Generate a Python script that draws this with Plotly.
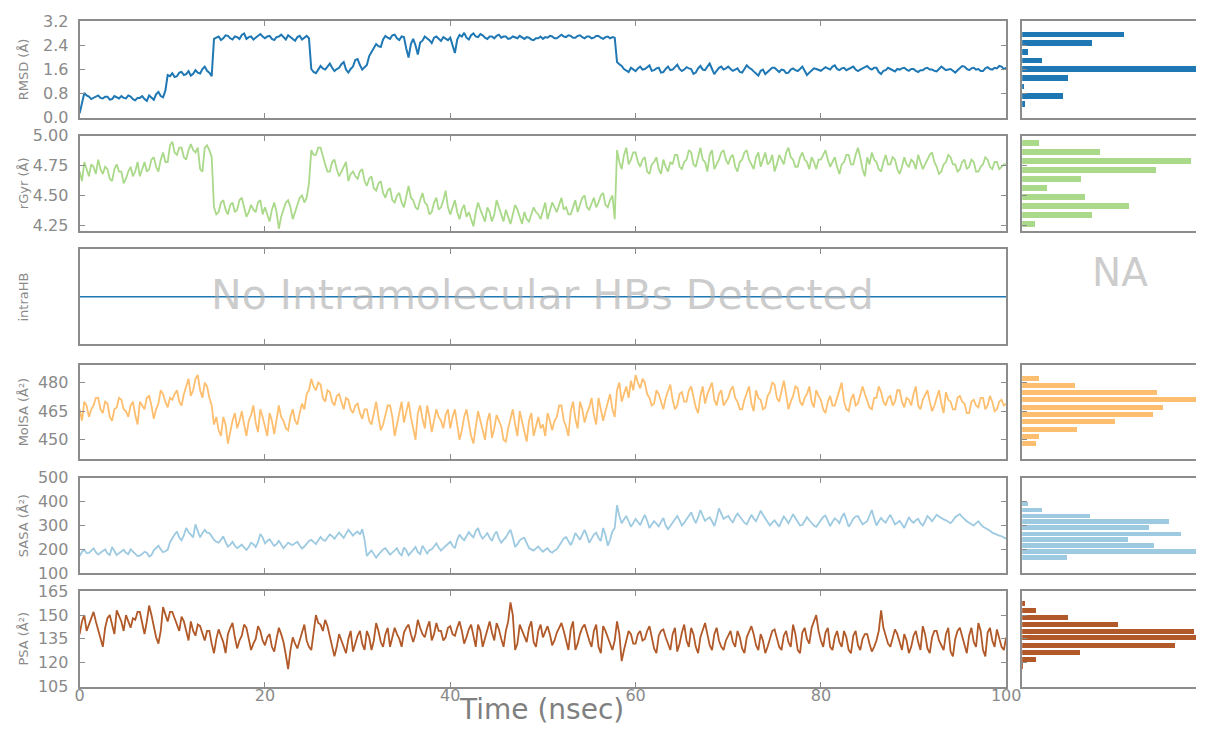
import numpy as np
import plotly.graph_objects as go

# ---------------- data (one value every 0.25 ns) ----------------
RMSD = [
    0.15, 0.55, 0.82, 0.74, 0.70, 0.62, 0.66, 0.72, 0.74, 0.66, 0.64, 0.70, 0.70, 0.60, 0.62, 0.72, 0.68, 0.64, 0.72, 0.66,
    0.64, 0.74, 0.70, 0.62, 0.58, 0.66, 0.66, 0.72, 0.62, 0.56, 0.74, 0.66, 0.60, 0.78, 0.86, 0.72, 0.68, 0.90, 1.42, 1.38,
    1.48, 1.35, 1.38, 1.50, 1.52, 1.42, 1.45, 1.55, 1.40, 1.46, 1.58, 1.50, 1.47, 1.62, 1.70, 1.56, 1.50, 1.38, 2.62, 2.66,
    2.70, 2.58, 2.64, 2.74, 2.72, 2.64, 2.60, 2.70, 2.68, 2.62, 2.75, 2.80, 2.62, 2.68, 2.70, 2.60, 2.66, 2.74, 2.78, 2.70,
    2.64, 2.70, 2.72, 2.62, 2.58, 2.68, 2.70, 2.76, 2.66, 2.60, 2.74, 2.68, 2.62, 2.56, 2.68, 2.72, 2.60, 2.66, 2.72, 2.64,
    1.62, 1.52, 1.48, 1.60, 1.72, 1.64, 1.60, 1.70, 1.80, 1.66, 1.55, 1.62, 1.66, 1.78, 1.85, 1.60, 1.50, 1.62, 1.70, 1.92,
    1.95, 1.75, 1.60, 1.68, 1.75, 2.05, 2.20, 2.30, 2.45, 2.38, 2.35, 2.60, 2.72, 2.66, 2.62, 2.74, 2.76, 2.64, 2.58, 2.70,
    2.68, 2.30, 2.00, 2.45, 2.62, 2.40, 2.10, 2.50, 2.56, 2.70, 2.64, 2.58, 2.48, 2.66, 2.70, 2.62, 2.55, 2.68, 2.62, 2.58,
    2.66, 2.40, 2.15, 2.60, 2.75, 2.70, 2.82, 2.66, 2.60, 2.74, 2.80, 2.70, 2.68, 2.78, 2.74, 2.66, 2.62, 2.70, 2.70, 2.64,
    2.72, 2.76, 2.66, 2.70, 2.70, 2.62, 2.64, 2.70, 2.68, 2.64, 2.72, 2.66, 2.62, 2.68, 2.66, 2.60, 2.58, 2.64, 2.64, 2.70,
    2.62, 2.68, 2.66, 2.72, 2.70, 2.64, 2.64, 2.70, 2.76, 2.70, 2.68, 2.74, 2.72, 2.66, 2.66, 2.72, 2.74, 2.68, 2.64, 2.70,
    2.70, 2.64, 2.66, 2.72, 2.72, 2.66, 2.62, 2.68, 2.70, 2.64, 2.68, 2.66, 1.85, 1.78, 1.72, 1.62, 1.58, 1.52, 1.66, 1.60,
    1.55, 1.64, 1.70, 1.60, 1.62, 1.68, 1.74, 1.56, 1.58, 1.64, 1.66, 1.50, 1.52, 1.62, 1.70, 1.58, 1.60, 1.68, 1.76, 1.62,
    1.55, 1.60, 1.68, 1.64, 1.62, 1.46, 1.50, 1.64, 1.72, 1.60, 1.58, 1.70, 1.80, 1.62, 1.45, 1.56, 1.66, 1.70, 1.60, 1.64,
    1.70, 1.62, 1.56, 1.60, 1.64, 1.52, 1.50, 1.62, 1.74, 1.66, 1.62, 1.54, 1.48, 1.40, 1.56, 1.60, 1.45, 1.52, 1.60, 1.66,
    1.66, 1.58, 1.52, 1.60, 1.58, 1.48, 1.50, 1.60, 1.64, 1.58, 1.55, 1.62, 1.70, 1.56, 1.42, 1.50, 1.58, 1.64, 1.62, 1.58,
    1.56, 1.62, 1.68, 1.64, 1.60, 1.70, 1.74, 1.62, 1.58, 1.64, 1.66, 1.58, 1.62, 1.66, 1.70, 1.60, 1.55, 1.60, 1.64, 1.70,
    1.72, 1.64, 1.60, 1.66, 1.66, 1.52, 1.45, 1.56, 1.58, 1.66, 1.62, 1.58, 1.54, 1.62, 1.60, 1.64, 1.66, 1.60, 1.56, 1.62,
    1.62, 1.56, 1.52, 1.58, 1.58, 1.64, 1.66, 1.60, 1.60, 1.56, 1.54, 1.62, 1.70, 1.64, 1.58, 1.60, 1.62, 1.56, 1.50, 1.58,
    1.64, 1.72, 1.70, 1.62, 1.58, 1.64, 1.66, 1.60, 1.62, 1.55, 1.55, 1.64, 1.68, 1.62, 1.60, 1.66, 1.64, 1.72, 1.70, 1.62,
    1.66,
]
RGYR = [
    4.70, 4.62, 4.78, 4.72, 4.66, 4.76, 4.74, 4.68, 4.80, 4.72, 4.68, 4.74, 4.72, 4.64, 4.62, 4.72, 4.76, 4.70, 4.70, 4.60,
    4.64, 4.70, 4.74, 4.66, 4.70, 4.78, 4.66, 4.72, 4.78, 4.70, 4.72, 4.80, 4.82, 4.74, 4.70, 4.80, 4.86, 4.78, 4.78, 4.92,
    4.95, 4.86, 4.84, 4.90, 4.90, 4.82, 4.80, 4.88, 4.93, 4.88, 4.86, 4.90, 4.72, 4.70, 4.90, 4.92, 4.88, 4.82, 4.40, 4.34,
    4.36, 4.44, 4.46, 4.38, 4.34, 4.42, 4.44, 4.36, 4.38, 4.46, 4.48, 4.40, 4.32, 4.36, 4.42, 4.38, 4.36, 4.44, 4.46, 4.34,
    4.40, 4.34, 4.28, 4.38, 4.44, 4.36, 4.22, 4.32, 4.38, 4.44, 4.46, 4.40, 4.30, 4.36, 4.42, 4.48, 4.50, 4.44, 4.48, 4.60,
    4.88, 4.84, 4.84, 4.90, 4.90, 4.82, 4.76, 4.70, 4.70, 4.78, 4.80, 4.72, 4.66, 4.70, 4.74, 4.78, 4.62, 4.68, 4.70, 4.66,
    4.64, 4.70, 4.72, 4.62, 4.58, 4.64, 4.66, 4.56, 4.54, 4.60, 4.62, 4.52, 4.48, 4.54, 4.56, 4.46, 4.44, 4.50, 4.52, 4.44,
    4.40, 4.50, 4.58, 4.48, 4.46, 4.40, 4.38, 4.46, 4.52, 4.44, 4.42, 4.34, 4.36, 4.44, 4.48, 4.38, 4.40, 4.46, 4.54, 4.40,
    4.34, 4.40, 4.46, 4.36, 4.30, 4.38, 4.42, 4.32, 4.36, 4.30, 4.24, 4.36, 4.44, 4.38, 4.32, 4.28, 4.40, 4.36, 4.28, 4.34,
    4.46, 4.40, 4.34, 4.28, 4.38, 4.32, 4.26, 4.34, 4.42, 4.38, 4.32, 4.26, 4.36, 4.30, 4.28, 4.34, 4.40, 4.36, 4.34, 4.30,
    4.38, 4.44, 4.30, 4.36, 4.44, 4.40, 4.36, 4.42, 4.48, 4.38, 4.40, 4.34, 4.34, 4.40, 4.46, 4.36, 4.42, 4.48, 4.50, 4.40,
    4.38, 4.44, 4.48, 4.40, 4.44, 4.50, 4.52, 4.42, 4.40, 4.46, 4.50, 4.30, 4.88, 4.78, 4.72, 4.84, 4.90, 4.76, 4.80, 4.86,
    4.86, 4.78, 4.74, 4.80, 4.82, 4.70, 4.68, 4.76, 4.78, 4.82, 4.72, 4.68, 4.80, 4.74, 4.70, 4.78, 4.76, 4.84, 4.84, 4.74,
    4.72, 4.78, 4.80, 4.88, 4.86, 4.76, 4.74, 4.82, 4.90, 4.80, 4.78, 4.70, 4.84, 4.88, 4.72, 4.76, 4.80, 4.86, 4.88, 4.80,
    4.76, 4.82, 4.84, 4.74, 4.70, 4.78, 4.80, 4.86, 4.88, 4.80, 4.76, 4.72, 4.82, 4.86, 4.74, 4.80, 4.86, 4.76, 4.78, 4.84,
    4.70, 4.76, 4.84, 4.80, 4.76, 4.86, 4.90, 4.82, 4.80, 4.74, 4.74, 4.82, 4.86, 4.80, 4.78, 4.72, 4.82, 4.78, 4.72, 4.80,
    4.80, 4.84, 4.88, 4.80, 4.74, 4.78, 4.82, 4.74, 4.68, 4.76, 4.78, 4.84, 4.84, 4.76, 4.76, 4.84, 4.90, 4.82, 4.72, 4.66,
    4.82, 4.76, 4.86, 4.80, 4.78, 4.72, 4.70, 4.78, 4.84, 4.76, 4.76, 4.82, 4.80, 4.72, 4.68, 4.74, 4.82, 4.76, 4.74, 4.80,
    4.78, 4.72, 4.84, 4.78, 4.72, 4.76, 4.80, 4.84, 4.86, 4.78, 4.74, 4.68, 4.70, 4.76, 4.78, 4.84, 4.82, 4.76, 4.76, 4.70,
    4.72, 4.78, 4.80, 4.72, 4.74, 4.80, 4.78, 4.70, 4.70, 4.74, 4.76, 4.82, 4.80, 4.74, 4.72, 4.78, 4.78, 4.72, 4.74, 4.76,
    4.76,
]
INTRA_HB = [0, 0]  # no intramolecular H-bonds over the whole run
MOLSA = [
    466, 460, 470, 468, 462, 466, 468, 472, 472, 466, 464, 470, 469, 462, 460, 466, 467, 472, 471, 466,
    465, 462, 468, 470, 463, 458, 470, 468, 466, 472, 473, 468, 461, 466, 469, 476, 474, 470, 467, 472,
    471, 474, 476, 470, 468, 474, 478, 482, 473, 476, 482, 484, 476, 472, 480, 478, 472, 468, 458, 462,
    455, 452, 462, 458, 448, 455, 460, 464, 456, 460, 465, 458, 452, 460, 463, 468, 459, 454, 466, 462,
    457, 452, 464, 460, 453, 460, 468, 462, 460, 456, 455, 462, 466, 460, 458, 464, 469, 466, 474, 476,
    482, 478, 476, 480, 479, 472, 470, 476, 475, 470, 468, 473, 474, 470, 466, 472, 471, 466, 464, 468,
    469, 464, 461, 466, 466, 460, 458, 464, 470, 462, 455, 458, 463, 468, 468, 462, 452, 458, 465, 470,
    459, 464, 470, 462, 456, 450, 464, 468, 461, 456, 468, 462, 454, 460, 466, 462, 460, 456, 463, 466,
    456, 462, 466, 458, 450, 455, 462, 466, 458, 452, 448, 456, 465, 460, 455, 450, 460, 464, 451, 456,
    463, 460, 457, 450, 449, 456, 461, 466, 458, 452, 465, 460, 454, 449, 460, 464, 452, 458, 462, 456,
    458, 452, 464, 460, 455, 460, 462, 468, 468, 460, 457, 452, 465, 470, 461, 456, 470, 466, 459, 464,
    467, 472, 463, 458, 472, 466, 460, 465, 469, 474, 466, 462, 476, 480, 470, 474, 478, 472, 481, 476,
    484, 480, 477, 482, 480, 474, 472, 468, 469, 476, 474, 470, 466, 472, 476, 479, 471, 466, 468, 474,
    475, 470, 470, 476, 478, 472, 467, 464, 473, 478, 469, 474, 477, 480, 471, 468, 474, 476, 468, 470,
    472, 476, 478, 472, 470, 466, 466, 471, 474, 478, 469, 465, 476, 472, 471, 466, 467, 473, 475, 480,
    479, 472, 470, 476, 481, 474, 466, 470, 473, 478, 477, 470, 468, 472, 474, 478, 470, 467, 476, 473,
    471, 466, 464, 470, 473, 468, 468, 472, 476, 480, 470, 466, 465, 471, 474, 468, 469, 473, 478, 474,
    471, 467, 466, 472, 472, 478, 475, 470, 468, 472, 473, 468, 470, 476, 476, 470, 467, 472, 471, 468,
    474, 478, 468, 466, 471, 474, 476, 470, 465, 468, 472, 476, 469, 464, 475, 471, 470, 466, 466, 472,
    473, 470, 469, 464, 464, 470, 471, 468, 467, 472, 472, 466, 468, 473, 470, 465, 466, 470, 471, 468,
    469,
]
SASA = [
    172, 190, 198, 184, 185, 196, 204, 188, 178, 186, 195, 200, 183, 176, 210, 192, 176, 184, 192, 198,
    186, 180, 200, 192, 181, 172, 174, 180, 190, 186, 170, 176, 196, 205, 215, 200, 188, 192, 198, 230,
    248, 262, 275, 250, 238, 260, 290, 272, 262, 250, 305, 280, 250, 268, 282, 270, 268, 255, 240, 232,
    228, 240, 255, 230, 212, 220, 232, 215, 205, 212, 220, 208, 198, 210, 228, 222, 210, 230, 265, 250,
    225, 235, 242, 228, 214, 222, 236, 220, 205, 216, 228, 222, 218, 226, 232, 215, 204, 212, 226, 235,
    240, 230, 222, 238, 252, 240, 236, 250, 262, 255, 244, 258, 270, 260, 248, 266, 282, 270, 258, 268,
    275, 262, 285, 240, 172, 185, 195, 180, 165, 178, 188, 200, 205, 190, 178, 186, 196, 205, 184, 175,
    208, 196, 175, 185, 198, 210, 188, 180, 215, 200, 182, 196, 200, 212, 225, 208, 195, 205, 215, 225,
    232, 215, 205, 240, 262, 248, 238, 255, 272, 260, 250, 276, 290, 260, 245, 256, 268, 250, 235, 262,
    275, 245, 228, 240, 250, 268, 282, 250, 210, 222, 238, 245, 248, 226, 205, 200, 195, 204, 212, 200,
    190, 198, 205, 192, 186, 195, 200, 215, 230, 245, 252, 232, 218, 240, 268, 255, 240, 262, 282, 258,
    228, 245, 262, 270, 248, 235, 290, 260, 215, 240, 275, 290, 385, 340, 310, 325, 340, 318, 295, 310,
    328, 315, 302, 325, 345, 320, 290, 305, 318, 308, 296, 315, 332, 300, 285, 298, 312, 330, 340, 322,
    300, 312, 325, 340, 355, 330, 310, 335, 365, 340, 320, 328, 335, 318, 298, 330, 372, 350, 328, 335,
    340, 325, 312, 335, 350, 338, 325, 312, 305, 325, 345, 330, 318, 340, 362, 345, 330, 315, 300, 312,
    322, 308, 295, 318, 338, 325, 310, 328, 348, 332, 315, 300, 302, 320, 335, 322, 312, 300, 295, 310,
    325, 336, 342, 318, 298, 315, 330, 322, 310, 335, 352, 325, 295, 310, 328, 338, 340, 322, 305, 312,
    318, 342, 365, 330, 300, 318, 332, 320, 312, 330, 345, 325, 305, 312, 320, 305, 290, 312, 335, 320,
    312, 322, 328, 310, 300, 318, 340, 330, 318, 332, 345, 338, 330, 326, 322, 315, 310, 320, 335, 342,
    348, 336, 325, 318, 312, 305, 300, 310, 318, 305, 295, 290, 285, 278, 270, 265, 262, 258, 255, 250,
    245,
]
PSA = [
    138, 146, 150, 140, 144, 148, 152, 146, 140, 134, 130, 142, 148, 150, 144, 138, 153, 149, 146, 140,
    150, 146, 142, 148, 147, 152, 152, 145, 138, 146, 156, 150, 142, 136, 132, 140, 155, 150, 146, 152,
    152, 148, 144, 140, 149, 146, 140, 134, 146, 140, 137, 144, 143, 138, 134, 140, 140, 132, 126, 135,
    141, 137, 133, 126, 138, 142, 145, 136, 129, 134, 137, 144, 142, 135, 128, 132, 135, 143, 140, 134,
    131, 136, 138, 130, 127, 135, 142, 138, 133, 125, 116, 128, 136, 132, 129, 134, 139, 144, 134, 130,
    128, 140, 150, 145, 144, 140, 147, 143, 136, 130, 124, 130, 138, 134, 130, 126, 135, 140, 127, 132,
    137, 140, 132, 128, 140, 136, 128, 134, 145, 140, 133, 130, 138, 142, 130, 136, 142, 138, 135, 130,
    139, 142, 144, 138, 133, 138, 147, 142, 138, 136, 142, 146, 134, 138, 145, 140, 140, 134, 136, 142,
    143, 138, 137, 142, 146, 140, 132, 136, 141, 144, 136, 130, 144, 140, 130, 136, 142, 146, 139, 134,
    145, 141, 135, 130, 140, 146, 158, 150, 128, 132, 144, 140, 137, 133, 142, 146, 133, 130, 140, 144,
    136, 140, 143, 138, 131, 134, 139, 142, 145, 140, 133, 128, 141, 146, 128, 132, 138, 142, 144, 138,
    134, 130, 140, 144, 130, 126, 143, 140, 136, 132, 128, 134, 146, 138, 121, 128, 135, 140, 138, 132,
    132, 138, 140, 134, 135, 140, 143, 136, 129, 126, 137, 140, 141, 136, 132, 128, 138, 142, 127, 132,
    139, 144, 134, 130, 142, 138, 130, 126, 136, 140, 145, 138, 131, 128, 138, 142, 134, 130, 128, 134,
    137, 140, 133, 130, 140, 136, 129, 126, 136, 140, 143, 138, 131, 128, 138, 134, 126, 130, 135, 140,
    141, 136, 130, 128, 137, 140, 133, 130, 144, 138, 128, 126, 139, 142, 135, 132, 142, 146, 150, 140,
    134, 130, 139, 142, 130, 128, 136, 140, 133, 130, 140, 136, 128, 126, 137, 140, 131, 128, 135, 138,
    138, 132, 127, 130, 134, 140, 153, 142, 136, 132, 130, 136, 141, 138, 132, 128, 138, 134, 126, 130,
    137, 140, 133, 128, 143, 138, 129, 126, 136, 140, 140, 134, 131, 128, 138, 142, 127, 124, 135, 140,
    142, 136, 130, 126, 137, 142, 133, 130, 145, 140, 128, 124, 139, 142, 134, 130, 141, 136, 130, 128,
    136,
]

# histogram bins (centres) and bar lengths (relative counts)
RMSD_BINS = [2.75, 2.47, 2.18, 1.89, 1.61, 1.30, 1.02, 0.71, 0.44]
RMSD_COUNTS = [102, 70, 6, 20, 188, 46, 2, 41, 3]
RGYR_BINS = [4.941, 4.865, 4.792, 4.716, 4.640, 4.564, 4.488, 4.413, 4.340, 4.261]
RGYR_COUNTS = [17, 78, 169, 134, 59, 25, 63, 107, 70, 13]
MOLSA_BINS = [482.6, 478.8, 475.1, 471.2, 467.2, 463.3, 459.6, 455.8, 451.9, 448.1]
MOLSA_COUNTS = [17, 53, 135, 184, 141, 131, 93, 55, 17, 14]
SASA_BINS = [391.8, 366.5, 341.3, 317.7, 292.4, 265.5, 241.9, 216.6, 191.4, 166.1]
SASA_COUNTS = [6, 20, 68, 147, 127, 159, 106, 132, 174, 45]
PSA_BINS = [157.0, 152.8, 148.4, 143.7, 139.5, 135.5, 130.9, 126.5, 122.1, 117.8]
PSA_COUNTS = [3, 14, 46, 96, 172, 188, 153, 58, 14, 1]

TIME_TICKS = [0, 20, 40, 60, 80, 100]

# ---------------- layout helpers ----------------
W, H = 1211, 733
# the photographed page shows up slightly shrunk and offset; these calibrate
# target positions (in photo pixels) back to page pixels
CAL_AX, CAL_BX = 4.3, 0.984
CAL_AY, CAL_BY = 7.6, 0.971
FRAME = '#8c8c8c'
TXT = '#8a8a8a'
FONT = 'DejaVu Sans'


def fx(p):
    return min(1.0, max(0.0, (p - CAL_AX) / CAL_BX / W))


def fy(p):
    return min(1.0, max(0.0, 1 - (p - CAL_AY) / CAL_BY / H))


MAIN_X = [fx(79), fx(1006)]
HIST_X = [fx(1022), 1.0]
HIST_RANGE = (W * (1.0 - HIST_X[0])) * CAL_BX   # one count unit = one photo pixel

panels = [
    dict(title='RMSD (Å)', data=RMSD, color='#1f78b4', top=20, bot=116, rng=[0, 3.2],
         tv=[0, 0.8, 1.6, 2.4, 3.2], tt=['0.0', '0.8', '1.6', '2.4', '3.2'],
         bins=RMSD_BINS, counts=RMSD_COUNTS, barw=0.19, lw=2),
    dict(title='rGyr (Å)', data=RGYR, color='#aad98a', top=134, bot=229, rng=[4.2, 5.0],
         tv=[4.25, 4.5, 4.75, 5.0], tt=['4.25', '4.50', '4.75', '5.00'],
         bins=RGYR_BINS, counts=RGYR_COUNTS, barw=0.05, lw=1.8),
    dict(title='intraHB', data=INTRA_HB, color='#1f78b4', top=247, bot=342, rng=[-1, 1],
         tv=[0], tt=[''], bins=None, counts=None, barw=None, lw=1.5),
    dict(title='MolSA (Å²)', data=MOLSA, color='#fdbf6f', top=362, bot=456, rng=[440, 489.5],
         tv=[450, 465, 480], tt=['450', '465', '480'],
         bins=MOLSA_BINS, counts=MOLSA_COUNTS, barw=2.6, lw=1.8),
    dict(title='SASA (Å²)', data=SASA, color='#9ecae1', top=475, bot=570, rng=[100, 500],
         tv=[100, 200, 300, 400, 500], tt=['100', '200', '300', '400', '500'],
         bins=SASA_BINS, counts=SASA_COUNTS, barw=19, lw=1.8),
    dict(title='PSA (Å²)', data=PSA, color='#b15928', top=588, bot=683, rng=[105, 165],
         tv=[105, 120, 135, 150, 165], tt=['105', '120', '135', '150', '165'],
         bins=PSA_BINS, counts=PSA_COUNTS, barw=3.2, lw=1.8),
]

fig = go.Figure()
layout = {}
annotations = []

for i, p in enumerate(panels):
    mi = 2 * i + 1
    hi = 2 * i + 2
    xm, ym = f'x{mi}', f'y{mi}'
    xh, yh = f'x{hi}', f'y{hi}'
    dom_y = [fy(p['bot']), fy(p['top'])]
    t = np.linspace(0, 100, len(p['data']))
    fig.add_trace(go.Scatter(x=t, y=p['data'], mode='lines', xaxis=xm, yaxis=ym,
                             line=dict(color=p['color'], width=p['lw']), showlegend=False))
    if p['bins'] is not None:
        fig.add_trace(go.Bar(x=p['counts'], y=p['bins'], orientation='h', xaxis=xh, yaxis=yh,
                             width=p['barw'], marker=dict(color=p['color'], line=dict(width=0)),
                             showlegend=False))
    last = (i == len(panels) - 1)
    common_line = dict(showline=True, linecolor=FRAME, linewidth=2,
                       showgrid=False, zeroline=False, ticks='inside', ticklen=5,
                       tickcolor=FRAME, tickwidth=1)
    layout[f'xaxis{mi}'] = dict(domain=MAIN_X, anchor=ym, range=[0, 100], tickvals=TIME_TICKS,
                                ticktext=[str(v) for v in TIME_TICKS], showticklabels=last,
                                mirror='ticks', ticklabelstandoff=-7,
                                tickfont=dict(family=FONT, size=16, color=TXT), **common_line)
    is_hb = p['title'] == 'intraHB'
    layout[f'yaxis{mi}'] = dict(domain=dom_y, anchor=xm, range=p['rng'], tickvals=[] if is_hb else p['tv'],
                                ticktext=[] if is_hb else p['tt'], showticklabels=not is_hb,
                                ticklabelstandoff=6, mirror='ticks',
                                tickfont=dict(family=FONT, size=16, color=TXT), **common_line)
    layout[f'xaxis{hi}'] = dict(domain=HIST_X, anchor=yh, range=[0, HIST_RANGE], showticklabels=False,
                                showline=True, linecolor=FRAME, linewidth=2, mirror=True,
                                showgrid=False, zeroline=False, ticks='')
    layout[f'yaxis{hi}'] = dict(domain=dom_y, anchor=xh, range=p['rng'], tickvals=p['tv'],
                                showticklabels=False, mirror=False, **common_line)
    annotations.append(dict(text=p['title'], x=fx(23), y=fy((p['top'] + p['bot']) / 2),
                            xref='paper', yref='paper', textangle=-90, showarrow=False,
                            xanchor='center', yanchor='middle',
                            font=dict(family=FONT, size=13, color=TXT)))

annotations.append(dict(text='No Intramolecular HBs Detected', x=fx(542), y=fy(293),
                        xref='paper', yref='paper', showarrow=False, xanchor='center', yanchor='middle',
                        font=dict(family=FONT, size=41, color='rgba(170,170,170,0.6)')))
annotations.append(dict(text='NA', x=fx(1120), y=fy(270), xref='paper', yref='paper', showarrow=False,
                        xanchor='center', yanchor='middle',
                        font=dict(family=FONT, size=39, color='rgba(170,170,170,0.6)')))
annotations.append(dict(text='Time (nsec)', x=fx(541), y=1 - 719 / H, xref='paper', yref='paper',
                        showarrow=False, xanchor='center', yanchor='middle',
                        font=dict(family=FONT, size=28, color='#7f7f7f')))

fig.update_layout(autosize=True, margin=dict(l=0, r=0, t=0, b=0), paper_bgcolor='white',
                  plot_bgcolor='white', annotations=annotations, bargap=0, **layout)

# pin the plot div to the page's top-left corner at the window size
fig.write_html("out.html", config={'displayModeBar': False},
               default_width=f"{W}px",
               default_height=f"{H}px; position:absolute; left:0px; top:0px")
